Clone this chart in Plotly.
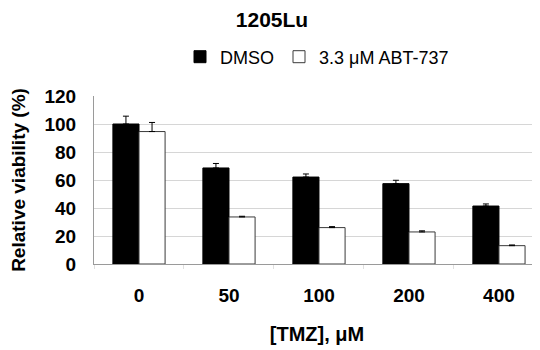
import plotly.graph_objects as go

categories = ["0", "50", "100", "200", "400"]
dmso = [100, 68.6, 62.1, 57.4, 41.4]
dmso_err = [5.6, 3.2, 2.2, 2.4, 1.5]
abt = [94.6, 33.6, 26.0, 22.9, 13.1]
abt_err = [6.5, 0.5, 0.7, 0.8, 0.5]
zeros = [0] * len(categories)
y_ticks = [0, 20, 40, 60, 80, 100, 120]

FONT = "Liberation Sans, Arial, Helvetica, sans-serif"

fig = go.Figure()
fig.add_trace(go.Bar(
    x=categories, y=dmso, name="DMSO",
    marker=dict(color="black", line=dict(color="black", width=1)),
    error_y=dict(type="data", symmetric=False, array=dmso_err, arrayminus=zeros,
                 color="black", thickness=1, width=3),
))
fig.add_trace(go.Bar(
    x=categories, y=abt, name="3.3 μM ABT-737",
    marker=dict(color="white", line=dict(color="#3a3a3a", width=1)),
    error_y=dict(type="data", symmetric=False, array=abt_err, arrayminus=zeros,
                 color="black", thickness=1, width=3),
))

fig.update_layout(
    width=540, height=350,
    margin=dict(l=86, r=8, t=88, b=94, autoexpand=False),
    paper_bgcolor="white", plot_bgcolor="white",
    barmode="group", bargap=0.42, bargroupgap=0,
    font=dict(family=FONT, color="black"),
    title=dict(text="<b>1205Lu</b>", x=264/540, xref="container", xanchor="center",
               y=1 - 4/350, yref="container", yanchor="top",
               font=dict(size=21, family=FONT, color="black")),
    legend=dict(orientation="h", x=0.5, xanchor="center", y=1 + 39/168, yanchor="middle",
                font=dict(size=18, family=FONT, color="black"),
                itemwidth=30, tracegroupgap=0),
    showlegend=True,
)

fig.update_xaxes(
    type="category", range=[-0.5, 4.456], automargin=False,
    showline=True, linecolor="#9a9a9a", linewidth=1,
    showgrid=False, ticks="outside", tickson="boundaries", ticklen=4,
    tickcolor="#e0e0e0",
    tickvals=categories, ticktext=[f"<b>{c}</b>" for c in categories],
    tickfont=dict(size=19, family=FONT, color="black"),
    ticklabelstandoff=14,
    title=dict(text="<b>[TMZ], μM</b>", font=dict(size=20, family=FONT, color="black"),
               standoff=22),
)

fig.update_yaxes(
    range=[0, 120], tickvals=y_ticks, automargin=False,
    ticktext=[f"<b>{v}</b>" for v in y_ticks],
    showline=True, linecolor="#9a9a9a", linewidth=1,
    showgrid=True, gridcolor="#d6d6d6", gridwidth=1,
    zeroline=False, ticks="",
    tickfont=dict(size=19, family=FONT, color="black"),
    ticklabelstandoff=13,
    title=dict(text="<b>Relative viability (%)</b>",
               font=dict(size=19, family=FONT, color="black"), standoff=22),
)

fig.write_html("out.html")
